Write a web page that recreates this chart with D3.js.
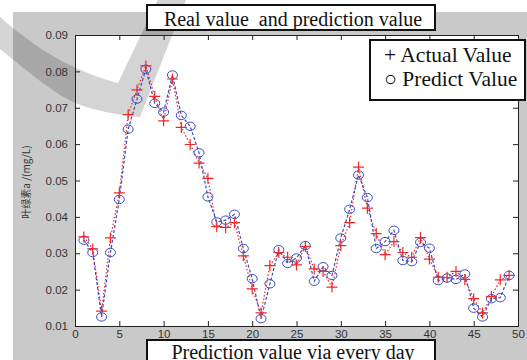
<!DOCTYPE html>
<html>
<head>
<meta charset="utf-8">
<script src="https://cdn.jsdelivr.net/npm/d3@7"></script>
<style>
  body { margin: 0; background: #fff; }
  svg { display: block; }
</style>
</head>
<body>
<div id="chart"></div>
<script>
// days 1..49
const days = d3.range(1, 50);

const actualValue = [
  0.0345, 0.0312, 0.0141, 0.0342, 0.0466, 0.0681, 0.0749, 0.0815, 0.0731, 0.0664,
  0.0779, 0.0646, 0.0599, 0.0548, 0.0506, 0.0373, 0.0371, 0.0384, 0.0293, 0.0202,
  0.0136, 0.0266, 0.0302, 0.0289, 0.0268, 0.0319, 0.0257, 0.0250, 0.0207, 0.0321,
  0.0384, 0.0537, 0.0424, 0.0354, 0.0296, 0.0332, 0.0302, 0.0289, 0.0343, 0.0284,
  0.0234, 0.0234, 0.0250, 0.0228, 0.0175, 0.0136, 0.0181, 0.0227, 0.0239
];

const predictValue = [
  0.0336, 0.0302, 0.0125, 0.0302, 0.0448, 0.0641, 0.0724, 0.0806, 0.0712, 0.0688,
  0.0790, 0.0679, 0.0649, 0.0576, 0.0455, 0.0386, 0.0391, 0.0407, 0.0313, 0.0230,
  0.0120, 0.0216, 0.0310, 0.0272, 0.0287, 0.0321, 0.0223, 0.0263, 0.0239, 0.0342,
  0.0421, 0.0515, 0.0453, 0.0313, 0.0332, 0.0363, 0.0280, 0.0277, 0.0330, 0.0314,
  0.0225, 0.0232, 0.0228, 0.0243, 0.0149, 0.0125, 0.0175, 0.0178, 0.0239
];

const xTicks = [0, 5, 10, 15, 20, 25, 30, 35, 40, 45, 50];
const yTicks = [0.01, 0.02, 0.03, 0.04, 0.05, 0.06, 0.07, 0.08, 0.09];
const legendLabels = ["Actual Value", "Predict Value"];

const W = 527, H = 360;
const margin = {top: 35, right: 9, bottom: 34, left: 75};
const width = W - margin.left - margin.right;
const height = H - margin.top - margin.bottom;

const svg = d3.select("#chart").append("svg")
  .attr("width", W)
  .attr("height", H);

// figure background (matlab grey)
svg.append("rect")
  .attr("x", 13).attr("y", 12)
  .attr("width", W - 13).attr("height", H - 12)
  .attr("fill", "#c9c9c9");

// plot area
svg.append("rect")
  .attr("x", margin.left).attr("y", margin.top)
  .attr("width", width).attr("height", height)
  .attr("fill", "#fff");

// scanned watermark stroke behind everything
svg.append("path")
  .attr("d", "M-5,12 C30,45 70,70 118,83 L160,-5 L188,-5 L140,117 C110,114 80,108 60,95 C40,82 20,65 -5,45 Z")
  .attr("fill", "#000")
  .attr("opacity", 0.17);

const g = svg.append("g")
  .attr("transform", "translate(" + margin.left + "," + margin.top + ")");

let x = d3.scaleLinear().domain([0, 50]).range([0, width]);
let y = d3.scaleLinear().domain([0.01, 0.09]).range([height, 0]);

// axes, ticks pointing inward like matlab
const axisColor = "#222";
g.append("g")
  .attr("transform", "translate(0," + height + ")")
  .call(d3.axisBottom(x).tickValues(xTicks).tickSize(-5).tickPadding(4).tickFormat(d3.format("d")));
g.append("g")
  .call(d3.axisTop(x).tickValues(xTicks).tickSize(-5).tickFormat(""));
g.append("g")
  .call(d3.axisLeft(y).tickValues(yTicks).tickSize(-5).tickPadding(7).tickFormat(d3.format(".2f")));
g.append("g")
  .attr("transform", "translate(" + width + ",0)")
  .call(d3.axisRight(y).tickValues(yTicks).tickSize(-5).tickFormat(""));

g.selectAll(".domain").attr("stroke", axisColor);
g.selectAll(".tick line").attr("stroke", axisColor);
g.selectAll(".tick text")
  .attr("font-family", "'Liberation Sans', Arial, sans-serif")
  .attr("font-size", 11.5)
  .attr("fill", "#333");

// y label
svg.append("text")
  .attr("transform", "translate(30,182) rotate(-90)")
  .attr("text-anchor", "middle")
  .attr("font-family", "'Noto Sans CJK SC', 'Liberation Sans', sans-serif")
  .attr("font-size", 10)
  .attr("fill", "#333")
  .text("叶绿素a /(mg/L)");

const line = d3.line()
  .x((d, i) => x(days[i]))
  .y(d => y(d));

const red = "#f02828", blue = "#3a4cc0";

g.append("path")
  .datum(actualValue)
  .attr("d", line)
  .attr("fill", "none")
  .attr("stroke", red)
  .attr("stroke-width", 1.2)
  .attr("stroke-dasharray", "1.5,2");

g.append("path")
  .datum(predictValue)
  .attr("d", line)
  .attr("fill", "none")
  .attr("stroke", blue)
  .attr("stroke-width", 1.2)
  .attr("stroke-dasharray", "3,2");

// predict markers (circles)
g.selectAll(".pred").data(predictValue)
  .enter()
  .append("ellipse")
    .attr("class", "pred")
    .attr("cx", (d, i) => x(days[i]))
    .attr("cy", d => y(d))
    .attr("rx", 5)
    .attr("ry", 4.2)
    .attr("fill", "none")
    .attr("stroke", blue)
    .attr("stroke-width", 1);

// actual markers (plus)
g.selectAll(".act").data(actualValue)
  .enter()
  .append("path")
    .attr("class", "act")
    .attr("transform", (d, i) => "translate(" + x(days[i]) + "," + y(d) + ")")
    .attr("d", "M-5.5,0H5.5M0,-5.5V5.5")
    .attr("stroke", red)
    .attr("stroke-width", 1.2);

// title boxes
function titleBox(yTop, baseline, label) {
  svg.append("rect")
    .attr("x", 147).attr("y", yTop)
    .attr("width", 288).attr("height", 25)
    .attr("fill", "#fff")
    .attr("stroke", "#111")
    .attr("stroke-width", 2);
  svg.append("text")
    .attr("x", 293).attr("y", baseline)
    .attr("text-anchor", "middle")
    .attr("font-family", "'Liberation Serif', 'Times New Roman', serif")
    .attr("font-size", 20)
    .attr("fill", "#111")
    .attr("xml:space", "preserve")
    .text(label);
}
titleBox(5, 26, "Real value  and prediction value");
titleBox(340, 359, "Prediction value via every day");

// legend
const legend = svg.append("g");
legend.append("rect")
  .attr("x", 370).attr("y", 40)
  .attr("width", 155).attr("height", 60)
  .attr("fill", "#fff")
  .attr("stroke", "#111")
  .attr("stroke-width", 2);
legend.selectAll("text").data(legendLabels)
  .enter()
  .append("text")
    .attr("x", 384)
    .attr("y", (d, i) => 62 + i * 24)
    .attr("font-family", "'Liberation Serif', 'Times New Roman', serif")
    .attr("font-size", 21.5)
    .attr("fill", "#111")
    .text((d, i) => (i === 0 ? "+ " : "\u25CB ") + d);
</script>
</body>
</html>
